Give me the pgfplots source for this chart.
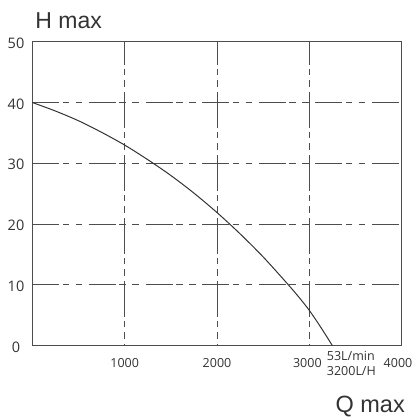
\documentclass[border=0pt]{standalone}
\usepackage{pgfplots}
\pgfplotsset{compat=1.18}
\usepackage{fontspec}
\setmainfont{Open Sans}
\newfontfamily\arialfont{Liberation Sans}
\definecolor{ink}{HTML}{333333}
\definecolor{gridc}{HTML}{4D4D4D}

\begin{document}
\begin{tikzpicture}
\path[use as bounding box] (-32.3bp,-71.3bp) rectangle (380.7bp,345.7bp);
\begin{axis}[
  at={(0,0)}, anchor=south west,
  scale only axis, width=369.4bp, height=304bp,
  xmin=0, xmax=4000, ymin=0, ymax=50,
  xtick={1000,2000,3000,4000},
  xticklabels={1000,2000,{\hspace*{-2bp}3000\hspace*{2bp}},{\hspace*{-3.7bp}4000\hspace*{3.7bp}}},
  ytick={0,10,20,30,40,50},
  yticklabels={0,10,20,30,40,50},
  scaled ticks=false,
  major tick length=0pt,
  axis line style={gridc, line width=0.9bp},
  grid=major,
  x grid style={gridc, line width=0.9bp,
    dash pattern=on 36bp off 5bp on 7bp off 5bp on 6bp off 4bp, dash phase=34.3bp},
  y grid style={gridc, line width=0.9bp,
    dash pattern=on 27bp off 3.5bp on 6.5bp off 6.5bp on 6.5bp off 6.6bp},
  xticklabel style={anchor=center, yshift=-17.3bp, text=ink,
    font=\fontsize{12.5bp}{15bp}\selectfont},
  yticklabel style={anchor=center, xshift=-16.3bp, yshift=-1.5bp, text=ink,
    font=\fontsize{14.5bp}{17bp}\selectfont},
]
% pump curve H(Q)
\addplot[ink, line width=1bp, smooth, tension=0.5] coordinates {
  (0,40) (250,38.6) (500,37.0) (750,35.1) (1000,33.0) (1250,30.6)
  (1500,28.0) (1750,25.1) (2000,21.9) (2250,18.4) (2500,14.6)
  (2750,10.4) (2875,8.2) (3000,5.8) (3125,3.0) (3250,0)
};
\end{axis}
\node[anchor=base west, inner sep=0, text=ink,
  font=\arialfont\fontsize{23bp}{26bp}\selectfont] at (3bp,316.7bp) {H max};
\node[anchor=base east, inner sep=0, text=ink,
  font=\arialfont\fontsize{23.5bp}{26bp}\selectfont] at (372.7bp,-66.3bp) {Q max};
\node[anchor=base west, inner sep=0, text=ink,
  font=\fontsize{12.5bp}{15bp}\selectfont] at (294.4bp,-14.3bp) {53L/min};
\node[anchor=base west, inner sep=0, text=ink,
  font=\fontsize{12.5bp}{15bp}\selectfont] at (294.4bp,-29.3bp) {3200L/H};
\end{tikzpicture}
\end{document}
